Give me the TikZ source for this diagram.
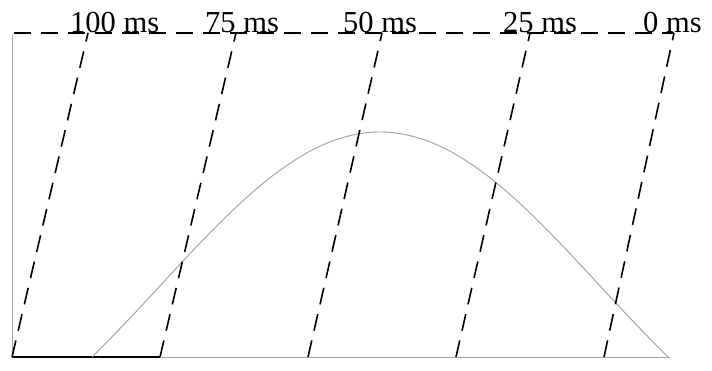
\documentclass[tikz,border=0pt]{standalone}
\usepackage{fontspec}
\setmainfont{Liberation Serif}
\usetikzlibrary{positioning}
\tikzset{
  axisline/.style={draw=gray!70, line width=0.9pt},
  baseseg/.style={draw=black, line width=1.8pt},
  timeline/.style={draw=black, line width=1.6pt, dash pattern=on 17pt off 10pt},
  pulsecurve/.style={draw=gray!75, line width=0.9pt},
  timelabel/.style={anchor=base west, inner sep=0pt,
    font=\fontsize{30.5}{31}\selectfont},
}
\begin{document}
\begin{tikzpicture}[x=1pt, y=-1pt]
  \useasboundingbox (0,0) rectangle (712,371);

  % ── Axes ───────────────────────────────────────────────────────
  \coordinate (origin) at (12,357);
  \coordinate (ytop) at (12,35);
  \coordinate (xend) at (670,357);
  \coordinate (segend) at (160,357);
  \draw[axisline] (ytop) -- (origin) -- (xend);
  \draw[baseseg] (origin) -- (segend);

  % ── Top dashed reference line ─────────────────────────────────
  \coordinate (topleft) at (14,33);
  \coordinate (topright) at (674,33);
  \draw[timeline] (topleft) -- (topright);

  % ── Pulse curve ────────────────────────────────────────────────
  \draw[pulsecurve] plot[variable=\t, domain=0:180, samples=90, smooth]
    ({92+3.2*\t}, {357-225*(0.8*sin(\t)+0.2*sin(\t)*sin(\t))});

  % ── Slanted time lines ─────────────────────────────────────────
  \foreach \i/\xb/\xt in {1/12/88, 2/160/236, 3/308/382, 4/456/530, 5/604/674} {
    \coordinate (bot\i) at (\xb,357);
    \coordinate (top\i) at (\xt,33);
    \draw[timeline] (bot\i) -- (top\i);
  }

  % ── Labels ─────────────────────────────────────────────────────
  \node[timelabel] (lab100) at (70,33) {100 ms};
  \node[timelabel] (lab75) at (205,33) {75 ms};
  \node[timelabel] (lab50) at (343,33) {50 ms};
  \node[timelabel] (lab25) at (503,33) {25 ms};
  \node[timelabel] (lab0) at (643,33) {0 ms};
\end{tikzpicture}
\end{document}
